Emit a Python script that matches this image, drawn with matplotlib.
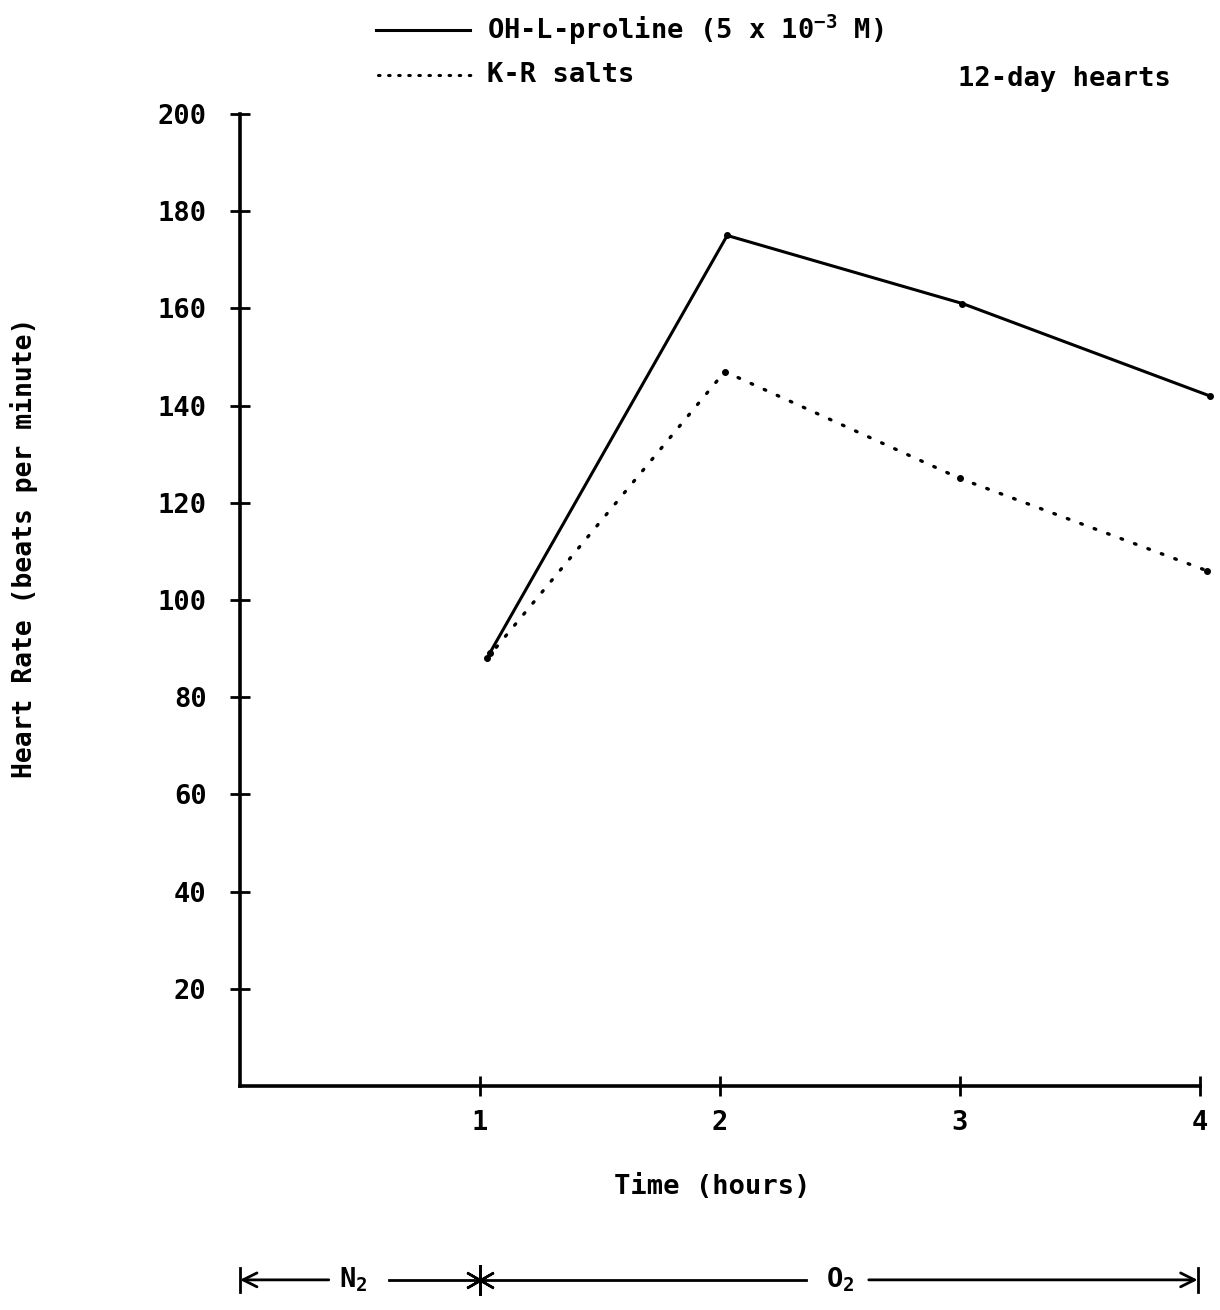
import matplotlib
matplotlib.use('Agg')
import matplotlib.pyplot as plt
from matplotlib.transforms import blended_transform_factory

# data
hours_prol = [1.04, 2.03, 3.01, 4.04]
rate_prol = [89, 175, 161, 142]
hours_kr = [1.03, 2.02, 3.0, 4.03]
rate_kr = [88, 147, 125, 106]
yticks = [20, 40, 60, 80, 100, 120, 140, 160, 180, 200]
xticks = [1, 2, 3, 4]

plt.rcParams['font.family'] = ['DejaVu Sans Mono']
plt.rcParams['font.weight'] = 'bold'
FS = 19.5

fig = plt.figure(figsize=(12.2, 13.1), dpi=100)
ax = fig.add_axes([0.1967, 0.171, 0.7869, 0.742])

ax.plot(hours_prol, rate_prol, color='black', lw=2.2, marker='o', ms=4)
ax.plot(hours_kr, rate_kr, color='black', lw=2.4, linestyle=(0, (0.5, 3.8)),
        dash_capstyle='round', marker='o', ms=4)

ax.set_xlim(0, 4)
ax.set_ylim(0, 200)
for s in ['top', 'right']:
    ax.spines[s].set_visible(False)
for s in ['left', 'bottom']:
    ax.spines[s].set_linewidth(2.6)
ax.set_yticks(yticks)
ax.set_yticklabels([str(v) for v in yticks], fontsize=FS)
ax.set_xticks(xticks)
ax.set_xticklabels([str(v) for v in xticks], fontsize=FS)
ax.tick_params(axis='y', direction='inout', length=14, width=2, pad=17)
ax.tick_params(axis='x', direction='inout', length=14, width=2, pad=10)
for l in ax.lines:
    l.set_clip_on(False)

fig.text(0.5836, 0.094, 'Time (hours)', fontsize=FS, ha='center', va='center')
fig.text(0.02, 0.582, 'Heart Rate (beats per minute)', fontsize=FS - 0.5,
         rotation=90, ha='center', va='center')

# legend at the top
fig.lines.append(plt.Line2D([0.308, 0.385], [0.977, 0.977], transform=fig.transFigure,
                            color='black', lw=2.2))
fig.lines.append(plt.Line2D([0.31, 0.387], [0.943, 0.943], transform=fig.transFigure,
                            color='black', lw=2.2, linestyle=(0, (0.5, 2.8)),
                            dash_capstyle='round'))
fig.text(0.399, 0.977, r'OH-L-proline (5 x 10$^{\mathregular{-3}}$ M)', fontsize=FS,
         ha='left', va='center')
fig.text(0.399, 0.943, 'K-R salts', fontsize=FS, ha='left', va='center')
fig.text(0.785, 0.940, '12-day hearts', fontsize=FS, ha='left', va='center')

# gas phase bar below the axis
tr = blended_transform_factory(ax.transData, fig.transFigure)
yb = 0.023
kw = dict(color='black', lw=2, transform=tr, clip_on=False)
ax.annotate('', xy=(0, yb), xytext=(0.37, yb), xycoords=tr, textcoords=tr,
            arrowprops=dict(arrowstyle='->', lw=2, color='black',
                            shrinkA=0, shrinkB=0, mutation_scale=25))
ax.plot([0, 0], [yb - 0.009, yb + 0.009], **kw)
ax.text(0.47, yb, r'N$_{\mathregular{2}}$', fontsize=FS, ha='center', va='center',
        transform=tr)
ax.plot([0.62, 2.36], [yb, yb], **kw)
ax.plot([1.0], [yb], marker=(6, 2, 0), ms=22, mew=1.8, color='black',
        transform=tr, clip_on=False)
ax.text(2.5, yb, r'O$_{\mathregular{2}}$', fontsize=FS, ha='center', va='center',
        transform=tr)
ax.annotate('', xy=(3.99, yb), xytext=(2.62, yb), xycoords=tr, textcoords=tr,
            arrowprops=dict(arrowstyle='->', lw=2, color='black',
                            shrinkA=0, shrinkB=0, mutation_scale=25))
ax.plot([3.99, 3.99], [yb - 0.009, yb + 0.009], **kw)

fig.savefig('out.png', dpi=100, facecolor='white')
